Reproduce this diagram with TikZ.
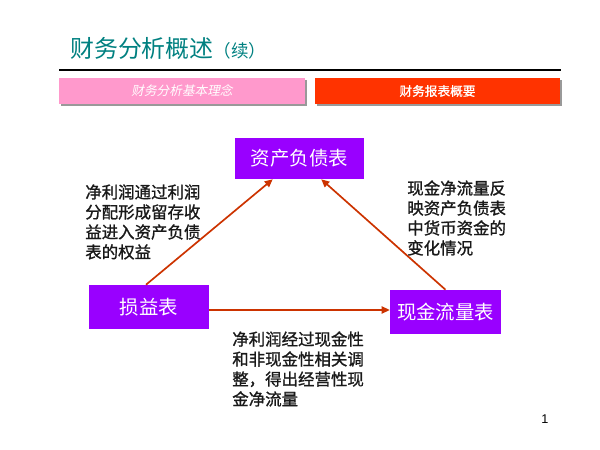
\documentclass[tikz,border=0pt]{standalone}
\usepackage{fontspec}
\newfontfamily\cjk{Noto Sans CJK SC}
\newfontfamily\cjkbf[FakeBold=1.2]{Noto Sans CJK SC}
\newfontfamily\cjkit[FakeSlant=0.2]{Noto Sans CJK SC}
\newfontfamily\numfont{Liberation Sans}
\definecolor{slteal}{RGB}{0,128,128}
\definecolor{slpink}{RGB}{255,153,204}
\definecolor{slred}{RGB}{255,51,0}
\definecolor{slpurple}{RGB}{153,0,255}
\definecolor{slarrow}{RGB}{204,51,0}
\definecolor{sltext}{RGB}{25,25,25}
\usetikzlibrary{arrows.meta,shadows}

\begin{document}
\begin{tikzpicture}[every node/.style={font=\cjk},
  tab/.style={minimum width=6.15cm, minimum height=0.65cm, inner sep=0pt, text=white,
    drop shadow={shadow xshift=0.04cm, shadow yshift=-0.04cm, fill=gray!80, opacity=1}},
  sheet/.style={fill=slpurple, text=white, inner sep=0pt, font=\cjk\fontsize{13.8}{16}\selectfont},
  note/.style={anchor=west, align=left, inner sep=0pt, text=sltext, font=\cjkbf\fontsize{11.7}{14.2}\selectfont},
  flow/.style={-{Triangle[length=2mm,width=1.8mm]}, line width=1.2pt, slarrow}]
\useasboundingbox (0,0) rectangle (15,11.25);
% Title
\node[anchor=west, inner sep=0pt, slteal, font=\cjk\fontsize{17}{20}\selectfont] (title) at (1.75,10.05)
  {财务分析概述{\fontsize{12.5}{14}\selectfont（续）}};
\draw[line width=1.4pt] (1.475,9.5) -- (14.025,9.5);
% Tabs
\node[tab, fill=slpink, font=\cjkit\fontsize{9}{11}\selectfont] (tabidea) at (4.55,8.975) {财务分析基本理念};
\node[tab, fill=slred, minimum width=6.125cm, font=\cjkbf\fontsize{9}{11}\selectfont] (tabsum) at (10.9375,8.975) {财务报表概要};
% Statements
\node[sheet, minimum width=3.225cm, minimum height=1.025cm] (bs) at (7.4875,7.2875) {资产负债表};
\node[sheet, minimum width=3cm, minimum height=1.1cm] (is) at (3.725,3.575) {损益表};
\node[sheet, minimum width=2.775cm, minimum height=1.1cm] (cf) at (11.1375,3.45) {现金流量表};
% Links
\draw[flow] ([xshift=-0.075cm]is.north) -- ([xshift=0.95cm]bs.south west);
\draw[flow] (cf.north) -- ([xshift=-1.075cm]bs.south east);
\draw[flow] ([yshift=-0.075cm]is.east) -- ([yshift=-0.075cm]is.east -| cf.west);
% Notes
\node[note] (noteis) at (2.125,5.7) {净利润通过利润\\分配形成留存收\\益进入资产负债\\表的权益};
\node[note] (notecf) at (10.175,5.8) {现金净流量反\\映资产负债表\\中货币资金的\\变化情况};
\node[note] (noteadj) at (5.8,2.025) {净利润经过现金性\\和非现金性相关调\\整，得出经营性现\\金净流量};
% Page number
\node[font=\numfont\fontsize{9}{11}\selectfont, inner sep=0pt] (page) at (13.625,0.775) {1};
\end{tikzpicture}
\end{document}
